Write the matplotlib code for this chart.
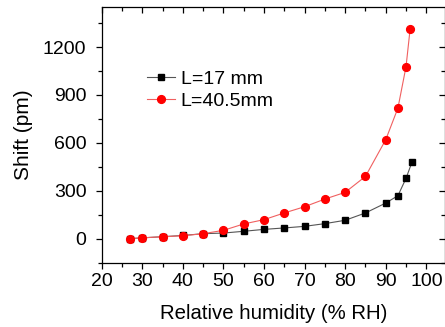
import matplotlib
matplotlib.use('Agg')
import matplotlib.pyplot as plt
from matplotlib.ticker import MultipleLocator

plt.rcParams['font.family'] = ['Liberation Sans', 'DejaVu Sans']

# relative humidity (% RH)
rh_17 = [27, 30, 35, 40, 45, 50, 55, 60, 65, 70, 75, 80, 85, 90, 93, 95, 96.5]
shift_17 = [0, 5, 12, 20, 31, 35, 46, 58, 67, 77, 94, 115, 161, 223, 269, 378, 482]

rh_40 = [27, 30, 35, 40, 45, 50, 55, 60, 65, 70, 75, 80, 85, 90, 93, 95, 96]
shift_40 = [0, 5, 12, 18, 31, 52, 92, 119, 161, 200, 248, 290, 390, 620, 818, 1078, 1312]

fig = plt.figure(figsize=(4.45, 3.27), dpi=100)
ax = fig.add_axes([0.2285, 0.197, 0.7715, 0.781])

ax.plot(rh_17, shift_17, '-s', color='#555555', lw=0.8, mfc='black', mec='black',
        ms=4.8, label='L=17 mm')
ax.plot(rh_40, shift_40, '-o', color='#f06060', lw=0.8, mfc='red', mec='red',
        ms=5.6, label='L=40.5mm')

ax.set_xlim(20, 104.6)
ax.set_ylim(-150, 1450)
ax.xaxis.set_major_locator(MultipleLocator(10))
ax.xaxis.set_minor_locator(MultipleLocator(5))
ax.yaxis.set_major_locator(MultipleLocator(300))
ax.yaxis.set_minor_locator(MultipleLocator(150))

ax.tick_params(which='both', direction='out', labelsize=14, width=0.9)
ax.tick_params(which='major', length=4)
ax.tick_params(which='minor', length=3)
ax.tick_params(axis='y', which='major', pad=7)
ax.tick_params(which='both', top=True, right=True)
# top/right ticks go inward
for t in ax.xaxis.get_ticklines(minor=False)[1::2] + ax.xaxis.get_ticklines(minor=True)[1::2]:
    t.set_marker(3)
for t in ax.yaxis.get_ticklines(minor=False)[1::2] + ax.yaxis.get_ticklines(minor=True)[1::2]:
    t.set_marker(0)
for s in ax.spines.values():
    s.set_linewidth(0.9)

ax.set_xlabel('Relative humidity (% RH)', fontsize=14.7, labelpad=10)
ax.set_ylabel('Shift (pm)', fontsize=15, labelpad=7)

ax.legend(loc='upper left', bbox_to_anchor=(0.097, 0.80), frameon=False,
          fontsize=14, handlelength=1.45, handletextpad=0.3, labelspacing=0.25,
          borderpad=0.1)

fig.savefig('out.png', dpi=100)
